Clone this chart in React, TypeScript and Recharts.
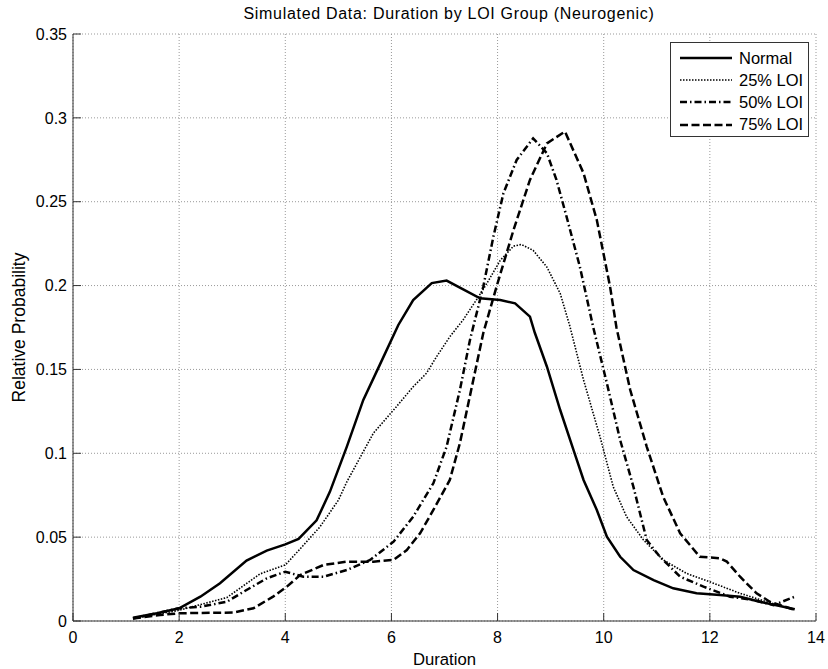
import { LineChart, Line, XAxis, YAxis, CartesianGrid, Legend } from 'recharts';

// Kernel density estimates of duration, one curve per LOI group.
const normalDuration = [1.13, 1.58, 2.0, 2.4, 2.77, 3.27, 3.65, 4.0, 4.25, 4.59, 4.84, 5.16, 5.47, 5.78, 6.13, 6.41, 6.76, 7.04, 7.29, 7.67, 8.05, 8.33, 8.61, 8.7, 8.93, 9.18, 9.43, 9.62, 9.87, 10.06, 10.31, 10.56, 10.94, 11.31, 11.75, 12.19, 12.57, 12.94, 13.32, 13.6];
const normalProb = [0.002, 0.0046, 0.0076, 0.0145, 0.0225, 0.036, 0.042, 0.0457, 0.049, 0.06, 0.077, 0.104, 0.1318, 0.1527, 0.1765, 0.1914, 0.2015, 0.203, 0.1988, 0.1924, 0.1914, 0.1894, 0.1815, 0.172, 0.1516, 0.1258, 0.102, 0.0841, 0.0662, 0.0503, 0.0383, 0.0304, 0.0244, 0.0195, 0.0165, 0.0155, 0.0145, 0.0115, 0.0089, 0.007];

const loi25Duration = [1.13, 2.0, 2.9, 3.52, 4.0, 4.28, 4.65, 5.0, 5.16, 5.66, 6.1, 6.41, 6.66, 6.85, 7.1, 7.35, 7.6, 7.8, 8.05, 8.3, 8.45, 8.67, 8.93, 9.18, 9.36, 9.62, 9.93, 10.18, 10.43, 10.75, 11.12, 11.56, 12.07, 12.57, 13.07, 13.6];
const loi25Prob = [0.0015, 0.0064, 0.014, 0.028, 0.0334, 0.043, 0.056, 0.072, 0.083, 0.112, 0.128, 0.1397, 0.1477, 0.1576, 0.1695, 0.1795, 0.1914, 0.2014, 0.215, 0.2235, 0.2245, 0.221, 0.211, 0.1953, 0.176, 0.1437, 0.1099, 0.08, 0.0622, 0.0483, 0.0364, 0.0284, 0.0225, 0.0165, 0.0115, 0.0066];

const loi50Duration = [1.13, 2.0, 2.4, 2.9, 3.27, 3.65, 4.0, 4.34, 4.72, 5.16, 5.6, 6.04, 6.41, 6.79, 7.04, 7.29, 7.48, 7.73, 7.92, 8.11, 8.36, 8.67, 8.93, 9.11, 9.3, 9.55, 9.8, 10.06, 10.31, 10.56, 10.81, 11.06, 11.44, 11.88, 12.38, 12.82, 13.2, 13.6];
const loi50Prob = [0.0015, 0.0076, 0.0085, 0.0115, 0.0185, 0.0254, 0.0294, 0.0264, 0.0264, 0.0304, 0.0364, 0.0473, 0.0622, 0.0821, 0.104, 0.1377, 0.1676, 0.1993, 0.229, 0.255, 0.2749, 0.2878, 0.2789, 0.263, 0.2411, 0.2113, 0.1755, 0.1417, 0.1079, 0.08, 0.0483, 0.0383, 0.0264, 0.0205, 0.0145, 0.0125, 0.0095, 0.0145];

const loi75Duration = [1.13, 1.64, 2.0, 2.4, 3.02, 3.4, 3.77, 4.03, 4.28, 4.72, 5.16, 5.66, 6.04, 6.29, 6.54, 6.79, 7.1, 7.29, 7.73, 7.98, 8.3, 8.61, 8.93, 9.27, 9.62, 9.87, 10.12, 10.24, 10.5, 10.81, 11.12, 11.44, 11.81, 12.19, 12.32, 12.57, 12.88, 13.13, 13.6];
const loi75Prob = [0.0015, 0.0036, 0.0046, 0.0048, 0.005, 0.0076, 0.0145, 0.0205, 0.0274, 0.0334, 0.0354, 0.0354, 0.0364, 0.0423, 0.0523, 0.0662, 0.0841, 0.106, 0.1716, 0.1993, 0.2331, 0.263, 0.2848, 0.2918, 0.267, 0.2391, 0.1993, 0.175, 0.1377, 0.104, 0.0741, 0.0523, 0.0383, 0.0374, 0.0354, 0.0264, 0.0165, 0.0115, 0.0066];

const xTicks = [0, 2, 4, 6, 8, 10, 12, 14];
const yTicks = [0, 0.05, 0.1, 0.15, 0.2, 0.25, 0.3, 0.35];

const toPoints = (xs: number[], ys: number[]) => xs.map((x, i) => ({ x, y: ys[i] }));

// MATLAB-style line specs: '-', ':', '-.', '--'
const SERIES = [
  { name: 'Normal', data: toPoints(normalDuration, normalProb), width: 2.5, dash: undefined },
  { name: '25% LOI', data: toPoints(loi25Duration, loi25Prob), width: 1.6, dash: '1.5 1.5' },
  { name: '50% LOI', data: toPoints(loi50Duration, loi50Prob), width: 2.5, dash: '7 3 1.5 3' },
  { name: '75% LOI', data: toPoints(loi75Duration, loi75Prob), width: 2.5, dash: '8 3.5' },
];

const FONT = 'Arial, "Liberation Sans", Helvetica, sans-serif';
const tickStyle = { fontSize: 16, fill: '#000', fontFamily: FONT };

function LegendBox() {
  return (
    <div
      style={{
        width: 139,
        height: 95,
        border: '1px solid #333',
        background: '#fff',
        boxSizing: 'border-box',
        padding: '4px 0 0 0',
        fontFamily: FONT,
        fontSize: 16.5,
      }}
    >
      {SERIES.map(s => (
        <div key={s.name} style={{ display: 'flex', alignItems: 'center', height: 22.2 }}>
          <svg width={68} height={10} style={{ flex: 'none' }}>
            <line x1={9} x2={61} y1={5} y2={5} stroke="#000" strokeWidth={s.width} strokeDasharray={s.dash} />
          </svg>
          <span>{s.name}</span>
        </div>
      ))}
    </div>
  );
}

// rotated y-axis title, centred on the plot area
function YTitle({ viewBox }: { viewBox?: { x: number; y: number; width: number; height: number } }) {
  if (!viewBox) return null;
  const cx = viewBox.x + 6;
  const cy = viewBox.y + viewBox.height / 2;
  return (
    <text
      x={cx}
      y={cy}
      transform={`rotate(-90 ${cx} ${cy})`}
      textAnchor="middle"
      dominantBaseline="central"
      style={{ fontSize: 17.5, fill: '#000', fontFamily: FONT }}
    >
      Relative Probability
    </text>
  );
}

export default function App() {
  return (
    <div style={{ position: 'absolute', left: 0, top: 0, width: 828, height: 669, background: '#fff', fontFamily: FONT }}>
      <div
        style={{
          position: 'absolute',
          top: 5,
          left: 0,
          width: 898,
          textAlign: 'center',
          fontSize: 16,
          letterSpacing: 0.7,
        }}
      >
        Simulated Data: Duration by LOI Group (Neurogenic)
      </div>
      <LineChart width={828} height={669} margin={{ top: 34, right: 12, bottom: 18, left: 13 }}>
        <CartesianGrid stroke="#999" strokeDasharray="1 2" />
        <XAxis
          type="number"
          dataKey="x"
          domain={[0, 14]}
          ticks={xTicks}
          allowDataOverflow
          stroke="#333"
          tickSize={-8}
          tickMargin={19}
          tick={tickStyle}
          label={{ value: 'Duration', position: 'bottom', offset: 2, style: { fontSize: 16.7, fill: '#000', fontFamily: FONT } }}
        />
        <YAxis
          type="number"
          dataKey="y"
          domain={[0, 0.35]}
          ticks={yTicks}
          allowDataOverflow
          stroke="#333"
          tickSize={-8}
          tickMargin={14}
          tick={tickStyle}
          tickFormatter={(v: number) => String(+v.toFixed(2))}
          label={<YTitle />}
        />
        <Legend
          layout="vertical"
          align="center"
          verticalAlign="middle"
          wrapperStyle={{ left: 670, top: 42, width: 139 }}
          content={() => <LegendBox />}
        />
        {SERIES.map(s => (
          <Line
            key={s.name}
            data={s.data}
            dataKey="y"
            name={s.name}
            type="linear"
            stroke="#000"
            strokeWidth={s.width}
            strokeDasharray={s.dash}
            dot={false}
            activeDot={false}
            isAnimationActive={false}
          />
        ))}
      </LineChart>
    </div>
  );
}
